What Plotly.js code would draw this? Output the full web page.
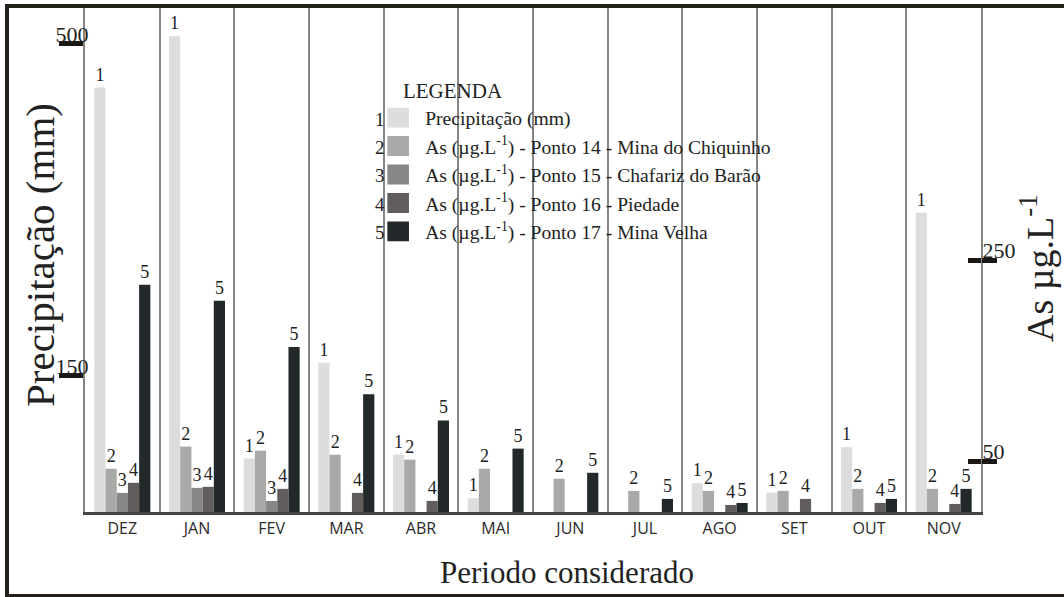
<!DOCTYPE html>
<html><head><meta charset="utf-8">
<script src="https://cdn.plot.ly/plotly-3.0.1.min.js"></script>
<style>
html,body{margin:0;padding:0;background:#fff;overflow:hidden;}
#chart{position:absolute;left:0;top:0;width:1064px;height:597px;}
#frame{position:absolute;left:5px;top:4px;width:1100px;height:594px;border:4px solid #24211d;box-sizing:border-box;pointer-events:none;}
</style></head><body>
<div id="chart"></div><div id="frame"></div>
<script>
// ---- data ----
const months = ['DEZ','JAN','FEV','MAR','ABR','MAI','JUN','JUL','AGO','SET','OUT','NOV'];
const precipitacao = [454, 508, 63, 164, 67, 21, null, null, 37, 27, 75, 322];   // mm
const ponto14 = [43, 65, 61, 57, 52, 43, 33, 21, 21, 21, 23, 23];                 // As µg/L
const ponto15 = [19, 24, 11, null, null, null, null, null, null, null, null, null];
const ponto16 = [29, 25, 23, 19, 11, null, null, null, 7, 13, 9, 8];
const ponto17 = [226, 210, 164, 117, 91, 63, 39, 13, 9, null, 13, 23];
const seriesNames = [
  'Precipitação (mm)',
  'As (µg.L<sup>-1</sup>) - Ponto 14 - Mina do Chiquinho',
  'As (µg.L<sup>-1</sup>) - Ponto 15 - Chafariz do Barão',
  'As (µg.L<sup>-1</sup>) - Ponto 16 - Piedade',
  'As (µg.L<sup>-1</sup>) - Ponto 17 - Mina Velha'
];
const seriesLabels = ['1','2','3','4','5'];
const leftTicks = [150, 500];
const rightTicks = [50, 250];
const colors = ['#dddddd','#a9a9a7','#878787','#615d5d','#23282a'];

const serif = 'Liberation Serif';
const tickCol = '#1a1714';
const allSeries = [precipitacao, ponto14, ponto15, ponto16, ponto17];

const traces = allSeries.map((vals, i) => {
  const idx = vals.map((v, j) => j).filter(j => vals[j] != null);
  return {
    type: 'bar',
    x: idx.map(j => months[j]),
    y: idx.map(j => vals[j]),
    name: seriesNames[i],
    yaxis: i === 0 ? 'y' : 'y2',
    offsetgroup: String(i + 1),
    alignmentgroup: 'all',
    marker: {color: colors[i], line: {width: 0}},
    text: idx.map(() => seriesLabels[i]),
    textposition: 'outside',
    cliponaxis: false,
    constraintext: 'none',
    textfont: {family: serif, size: 18, color: '#222'},
    outsidetextfont: {family: serif, size: 18, color: '#222'},
    hoverinfo: 'x+y+name'
  };
});
// empty helper trace so the outer half of the right-axis ticks (yaxis3) is drawn
traces.push({type: 'scatter', mode: 'markers', x: [], y: [], yaxis: 'y3', showlegend: false, hoverinfo: 'skip'});

const legendAnn = seriesLabels.map((s, i) => ({
  text: s, xref: 'paper', yref: 'paper',
  x: 0.337, y: 1 - (119 + i * 28.5 - 8) / 504,
  xanchor: 'right', yanchor: 'middle', showarrow: false,
  font: {family: serif, size: 19, color: '#222'}
}));

const layout = {
  width: 1064, height: 597,
  margin: {l: 85, r: 83, t: 8, b: 85},
  paper_bgcolor: '#fff', plot_bgcolor: '#fff',
  font: {family: serif, size: 19, color: '#222'},
  barmode: 'group', bargap: 0.25, bargroupgap: 0,
  showlegend: true,
  legend: {
    x: 0.335, y: 0.875, xanchor: 'left', yanchor: 'top',
    bgcolor: 'rgba(0,0,0,0)',
    title: {text: '&nbsp;&nbsp;&nbsp;LEGENDA', font: {family: serif, size: 21, color: '#222'}},
    font: {family: serif, size: 19.6, color: '#222'},
    traceorder: 'normal'
  },
  xaxis: {
    type: 'category', categoryorder: 'array', categoryarray: months,
    range: [-0.5, 11.5], tickson: 'boundaries',
    showgrid: true, gridcolor: '#858585', gridwidth: 2,
    ticks: '', showline: true, linecolor: '#454545', linewidth: 3,
    tickfont: {family: 'Open Sans', size: 16, color: '#2a2a2a'},
    fixedrange: true
  },
  yaxis: {
    range: [6.6, 537.9], tickmode: 'array', tickvals: leftTicks, ticktext: leftTicks.map(String),
    ticks: 'outside', ticklen: 24, tickwidth: 5, tickcolor: tickCol,
    ticklabelstandoff: -34, ticklabelshift: -10,
    showgrid: false, zeroline: false, showline: true, linecolor: '#858585', linewidth: 2,
    tickfont: {family: serif, size: 22, color: '#222'},
    fixedrange: true
  },
  yaxis2: {
    overlaying: 'y', side: 'right', range: [0, 501],
    tickmode: 'array', tickvals: rightTicks, ticktext: rightTicks.map(String),
    ticks: 'inside', ticklen: 13, tickwidth: 5, tickcolor: tickCol,
    ticklabelstandoff: -5, ticklabelshift: -10,
    showgrid: false, zeroline: false, showline: true, linecolor: '#858585', linewidth: 2,
    tickfont: {family: serif, size: 22, color: '#222'},
    fixedrange: true
  },
  yaxis3: {
    overlaying: 'y', side: 'right', anchor: 'x', range: [0, 501],
    tickmode: 'array', tickvals: rightTicks,
    ticks: 'outside', ticklen: 15, tickwidth: 5, tickcolor: tickCol,
    showticklabels: false, showgrid: false, zeroline: false, showline: false,
    fixedrange: true
  },
  annotations: legendAnn.concat([
    {
      text: 'Periodo considerado', xref: 'paper', yref: 'paper',
      x: 0.538, y: -0.121, xanchor: 'center', yanchor: 'middle', showarrow: false,
      font: {family: serif, size: 31, color: '#222'}
    },
    {
      text: 'Precipitação (mm)', xref: 'paper', yref: 'paper', textangle: -90,
      x: (40 - 85) / 896, y: 1 - (255 - 8) / 504, xanchor: 'center', yanchor: 'middle', showarrow: false,
      font: {family: serif, size: 41, color: '#222'}
    },
    {
      text: 'As µg.L<sup>-1</sup>', xref: 'paper', yref: 'paper', textangle: -90,
      x: (1037 - 85) / 896, y: 1 - (268 - 8) / 504, xanchor: 'center', yanchor: 'middle', showarrow: false,
      font: {family: serif, size: 38, color: '#222'}
    }
  ])
};

function fixSwatches(gd) {
  gd.querySelectorAll('.legendpoints path').forEach(p => {
    p.setAttribute('transform', 'translate(13,0) scale(1.8,1.65)');
  });
}

Plotly.newPlot('chart', traces, layout, {displayModeBar: false, staticPlot: true}).then(gd => {
  fixSwatches(gd);
  setTimeout(() => fixSwatches(gd), 50);
});
</script>
</body></html>
